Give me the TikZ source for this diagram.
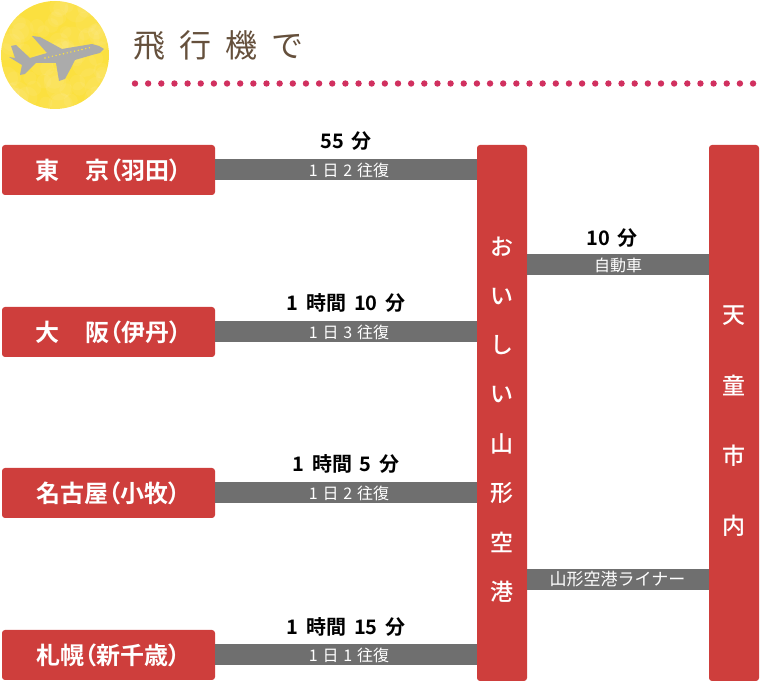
\documentclass[tikz,border=0pt]{standalone}
\usepackage{fontspec}
\setmainfont[RawFeature=+palt]{Noto Sans CJK JP}
\newfontfamily\titlefont[LetterSpace=44]{Noto Sans CJK JP}
\newfontfamily\labelfont[RawFeature=+palt]{Noto Sans CJK JP Bold}
\newfontfamily\charfont{Noto Sans CJK JP Medium}
\newfontfamily\durfont[WordSpace=1.75]{Noto Sans CJK JP Bold}
\newfontfamily\freqfont[WordSpace=1.35]{Noto Sans CJK JP}
\definecolor{boxred}{HTML}{CE3E3C}
\definecolor{bargray}{HTML}{6F6F6F}
\definecolor{titlebrown}{HTML}{65503C}
\definecolor{dotred}{HTML}{D1305F}
\definecolor{moonyellow}{HTML}{FBE03F}
\definecolor{planegray}{HTML}{ABABAB}
\begin{document}
\begin{tikzpicture}[x=1pt, y=-1pt]
  % Styles
  \tikzstyle{city}=[fill=boxred, rounded corners=3pt, minimum width=213pt, minimum height=50pt, inner sep=0pt, text=white, font=\fontsize{24}{24}\labelfont]
  \tikzstyle{hub}=[fill=boxred, rounded corners=3pt, minimum width=50pt, minimum height=536pt, inner sep=0pt]
  \tikzstyle{hubchar}=[text=white, inner sep=0pt, font=\fontsize{23}{23}\charfont]
  \tikzstyle{bar}=[draw=bargray, line width=21pt]
  \tikzstyle{freq}=[text=white, inner sep=0pt, font=\fontsize{16}{16}\freqfont]
  \tikzstyle{dur}=[text=black, inner sep=0pt, font=\fontsize{20}{20}\durfont]
  \useasboundingbox (0,0) rectangle (764,700);

  % Moon and plane
  \fill[moonyellow] (55,55) circle (54);
  \begin{scope}
    \clip (55,55) circle (54);
    \pgfmathsetseed{7}
    \foreach \i in {1,...,70}
      \fill[white, opacity=0.06] (rand*50+55,rand*50+55) circle (5+rnd*8);
  \end{scope}
  \fill[planegray] (104,49) -- (99,46) -- (92,44) -- (62,49) -- (40,37) -- (32,36) -- (47,53) -- (30,58)
    -- (16,45) -- (11,46) -- (15,58) -- (9,57) -- (22,65) -- (20,75) -- (25,74) -- (36,63) -- (56,63)
    -- (59,81) -- (65,79) -- (72,66) -- (75,60) -- (92,55) -- (100,53) -- cycle;
  \foreach \i in {0,...,12}
    \fill[moonyellow] (45+\i*3.7,58-\i*0.85) circle (0.8);

  % Title
  \node[text=titlebrown, inner sep=0pt, anchor=west, font=\fontsize{32}{32}\titlefont] (title) at (133,45) {飛行機で};
  \foreach \i in {0,...,47}
    \fill[dotred] (135+\i*13.15,83.5) circle (3.2);

  % Destination columns
  \node[hub] (oishii) at (502,413) {};
  \node[hub] (tendo) at (734,413) {};
  \foreach \ch [count=\n from 0] in {お,い,し,い,山,形,空,港}
    \node[hubchar] (oishii\n) at (502,247+\n*49.2) {\ch};
  \foreach \ch [count=\n from 0] in {天,童,市,内}
    \node[hubchar] (tendo\n) at (734,316+\n*70) {\ch};

  % Departure cities
  \node[city] (tokyo) at (108.5,170) {東\hspace{26pt}京（羽田）\hspace{4pt}};
  \node[city] (osaka) at (108.5,332) {大\hspace{26pt}阪（伊丹）\hspace{4pt}};
  \node[city] (nagoya) at (108.5,493) {名古屋（小牧）\hspace{4pt}};
  \node[city] (sapporo) at (108.5,655) {札幌（新千歳）\hspace{4pt}};

  % Flights
  \draw[bar] (tokyo.east) -- (tokyo.east -| oishii.west) node[midway, freq, xshift=3pt] (tokyo_freq) {1 日 2 往復};
  \node[dur] (tokyo_dur) at (346,141) {55 分};
  \draw[bar] (osaka.east) -- (osaka.east -| oishii.west) node[midway, freq, xshift=3pt] (osaka_freq) {1 日 3 往復};
  \node[dur] (osaka_dur) at (346,303) {1 時間 10 分};
  \draw[bar] (nagoya.east) -- (nagoya.east -| oishii.west) node[midway, freq, xshift=3pt] (nagoya_freq) {1 日 2 往復};
  \node[dur] (nagoya_dur) at (346,464) {1 時間 5 分};
  \draw[bar] (sapporo.east) -- (sapporo.east -| oishii.west) node[midway, freq, xshift=3pt] (sapporo_freq) {1 日 1 往復};
  \node[dur] (sapporo_dur) at (346,627) {1 時間 15 分};

  % Airport to city
  \coordinate (car_l) at (oishii.east |- 0,265);
  \coordinate (liner_l) at (oishii.east |- 0,579.5);
  \draw[bar] (car_l) -- (car_l -| tendo.west) node[midway, freq] (car_lab) {自動車};
  \node[dur] (car_dur) at (612,238) {10 分};
  \draw[bar] (liner_l) -- (liner_l -| tendo.west) node[midway, freq, font=\fontsize{17}{17}\freqfont, xshift=-0.5pt] (liner_lab) {山形空港ライナー};
\end{tikzpicture}
\end{document}
